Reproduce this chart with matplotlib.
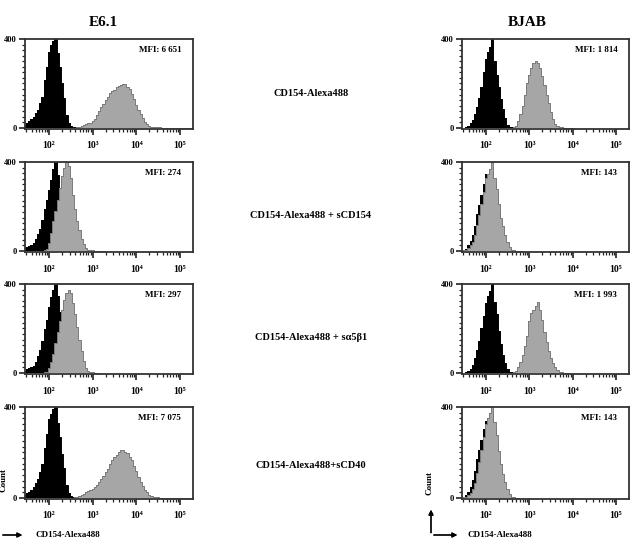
import numpy as np
import matplotlib.pyplot as plt
from matplotlib.ticker import FixedLocator, MultipleLocator, NullFormatter, LogLocator

plt.rcParams['font.family'] = ['Liberation Serif', 'DejaVu Serif']
plt.rcParams['font.weight'] = 'bold'

# histogram bins are 0.05 wide in log10(fluorescence); each series = (first bin centre, counts)
step = 0.05

e61_ctrl_1 = (1.45, [15, 22, 30, 38, 50, 66, 82, 110, 140, 215, 275, 340, 372, 390, 400,
                     335, 272, 200, 135, 60, 22, 8, 3, 2, 2, 3, 2, 3])
e61_stain_1 = (2.65, [3, 5, 8, 12, 16, 20, 24, 30, 42, 58, 75, 92, 108, 125, 140, 155, 165,
                      172, 182, 188, 192, 198, 196, 186, 176, 152, 128, 105, 82, 62, 44, 28,
                      18, 10, 6, 4, 3, 2, 2, 1, 1, 1, 1, 1, 1, 1, 1, 1, 1, 1, 1, 1, 1, 1])
e61_ctrl_2 = (1.45, [12, 18, 22, 28, 34, 52, 75, 98, 140, 190, 230, 275, 320, 370, 398,
                     340, 270, 190, 120, 55, 20, 6])
e61_stain_2 = (1.90, [4, 10, 35, 80, 135, 180, 230, 285, 335, 372, 398, 380, 330, 250, 190,
                      135, 95, 55, 30, 14, 6, 3, 2, 1, 1, 1, 1, 1])
e61_ctrl_3 = (1.45, [10, 16, 22, 28, 32, 50, 78, 105, 145, 196, 240, 298, 340, 372, 400,
                     345, 275, 195, 125, 58, 22, 6])
e61_stain_3 = (1.90, [2, 5, 20, 50, 85, 135, 182, 235, 285, 330, 358, 372, 360, 315, 265,
                      205, 150, 100, 55, 22, 8, 3, 2, 1, 1, 1])
e61_ctrl_4 = (1.45, [14, 20, 28, 36, 48, 64, 85, 112, 150, 220, 280, 345, 370, 392, 400,
                     330, 268, 195, 130, 58, 20, 7, 3, 2, 2, 2])
e61_stain_4 = (2.60, [2, 4, 8, 12, 18, 24, 30, 36, 40, 46, 55, 68, 82, 98, 112, 128, 148,
                      165, 178, 190, 200, 212, 210, 202, 196, 180, 165, 140, 118, 92, 72, 52,
                      36, 24, 14, 7, 4, 2, 2, 1, 1, 1, 1, 1, 1, 1, 1, 1, 1, 1, 1, 1, 1, 1])

bjab_ctrl_1 = (1.55, [3, 8, 20, 36, 62, 95, 135, 185, 250, 310, 340, 365, 400, 300, 240,
                      185, 130, 85, 45, 15, 5, 2])
bjab_stain_1 = (2.65, [3, 10, 30, 62, 100, 150, 200, 240, 270, 290, 300, 290, 270, 235, 192,
                       150, 110, 72, 40, 18, 8, 3, 2, 1, 1, 1, 1, 1])
bjab_ctrl_2 = (1.50, [3, 10, 25, 45, 70, 110, 165, 205, 250, 300, 345, 340, 350, 360, 300,
                      240, 170, 110, 70, 40, 20, 8, 3])
bjab_stain_2 = (1.50, [2, 6, 14, 25, 40, 70, 115, 160, 210, 265, 330, 345, 370, 400, 330,
                       280, 210, 150, 110, 70, 42, 18, 5, 2, 1, 1, 1])
bjab_ctrl_3 = (1.55, [2, 8, 18, 34, 65, 105, 145, 200, 255, 315, 345, 370, 400, 320, 265,
                      190, 130, 80, 45, 18, 5, 2])
bjab_stain_3 = (2.65, [3, 8, 25, 48, 80, 120, 165, 235, 270, 285, 300, 318, 285, 240, 185,
                       140, 100, 68, 45, 25, 14, 6, 2, 1, 1, 1])
bjab_ctrl_4 = (1.50, [3, 12, 28, 50, 78, 118, 170, 210, 255, 305, 340, 335, 352, 362, 305,
                      235, 165, 108, 68, 38, 18, 7, 3])
bjab_stain_4 = (1.50, [2, 5, 12, 22, 38, 66, 110, 158, 212, 268, 325, 350, 372, 400, 335,
                       278, 205, 148, 105, 68, 40, 16, 5, 2, 1, 1])

e61_series = [(e61_ctrl_1, e61_stain_1), (e61_ctrl_2, e61_stain_2),
              (e61_ctrl_3, e61_stain_3), (e61_ctrl_4, e61_stain_4)]
bjab_series = [(bjab_ctrl_1, bjab_stain_1), (bjab_ctrl_2, bjab_stain_2),
               (bjab_ctrl_3, bjab_stain_3), (bjab_ctrl_4, bjab_stain_4)]
e61_mfi = ['MFI: 6 651', 'MFI: 274', 'MFI: 297', 'MFI: 7 075']
bjab_mfi = ['MFI: 1 814', 'MFI: 143', 'MFI: 1 993', 'MFI: 143']
conditions = ['CD154-Alexa488', 'CD154-Alexa488 + sCD154',
              'CD154-Alexa488 + s\u03b15\u03b21', 'CD154-Alexa488+sCD40']
xtick_vals = [1e2, 1e3, 1e4, 1e5]
xtick_labels = ['10\u00b2', '10\u00b3', '10\u2074', '10\u2075']
ytick_vals = [0, 400]

W, H = 636, 549
fig = plt.figure(figsize=(W / 100, H / 100), dpi=100)

row_px = [(39, 129), (162, 252), (284, 374), (407, 499)]
col_px = [(25, 193), (462, 629)]


def draw_hist(ax, series, color, edge, z):
    start, counts = series
    counts = np.array(counts, dtype=float)
    centres = start + step * np.arange(len(counts))
    edges = np.concatenate([centres - step / 2, [centres[-1] + step / 2]])
    xs = np.repeat(10 ** edges, 2)[1:-1]
    ys = np.repeat(counts, 2)
    ax.fill_between(xs, 0, ys, color=color, lw=0, zorder=z)
    ax.plot(xs, ys, color=edge, lw=0.7, zorder=z + 0.5)


def setup(ax, mfi):
    ax.set_xscale('log')
    ax.set_xlim(10 ** 1.45, 10 ** 5.3)
    ax.set_ylim(-5, 400)
    ax.xaxis.set_major_locator(FixedLocator(xtick_vals))
    ax.set_xticklabels(xtick_labels)
    ax.xaxis.set_minor_locator(LogLocator(base=10, subs=np.arange(2, 10), numticks=20))
    ax.xaxis.set_minor_formatter(NullFormatter())
    ax.yaxis.set_major_locator(FixedLocator(ytick_vals))
    ax.yaxis.set_minor_locator(MultipleLocator(25))
    ax.tick_params(which='major', length=4, width=1.2, labelsize=7, pad=5, color='#222222')
    ax.tick_params(which='minor', length=2.5, width=0.9, color='#222222')
    ax.tick_params(axis='y', which='major', labelsize=6, pad=2)
    for s in ax.spines.values():
        s.set_linewidth(1.3)
        s.set_color('#333333')
        s.set_zorder(5)
    ax.text(0.93, 0.88, mfi, transform=ax.transAxes, ha='right', va='center',
            fontsize=6.5, fontweight='bold')


for col, (series_list, mfis) in enumerate([(e61_series, e61_mfi), (bjab_series, bjab_mfi)]):
    x0, x1 = col_px[col]
    for row, (ctrl, stain) in enumerate(series_list):
        y0, y1 = row_px[row]
        ax = fig.add_axes([x0 / W, 1 - y1 / H, (x1 - x0) / W, (y1 - y0) / H])
        draw_hist(ax, ctrl, 'black', 'black', 1)
        draw_hist(ax, stain, '#a6a6a6', '#7a7a7a', 3)
        setup(ax, mfis[row])

fig.text(103 / W, 1 - 23 / H, 'E6.1', ha='center', va='center', fontsize=11, fontweight='bold')
fig.text(527 / W, 1 - 23 / H, 'BJAB', ha='center', va='center', fontsize=11, fontweight='bold')

for label, y in zip(conditions, [93, 216, 338, 465]):
    fig.text(311 / W, 1 - y / H, label, ha='center', va='center', fontsize=7.5, fontweight='bold')

# axis annotations at the bottom
arrow = dict(arrowstyle='-|>', color='black', lw=0.9, mutation_scale=7)
fig.add_artist(plt.annotate('', xy=(25 / W, 1 - 535 / H), xytext=(0, 1 - 535 / H),
                            xycoords='figure fraction', arrowprops=arrow))
fig.text(36 / W, 1 - 535 / H, 'CD154-Alexa488', ha='left', va='center', fontsize=6.5,
         fontweight='bold')
fig.text(4 / W, 1 - 480 / H, 'Count', ha='center', va='center', rotation=90, fontsize=6.5,
         fontweight='bold')

fig.add_artist(plt.annotate('', xy=(460 / W, 1 - 535 / H), xytext=(431 / W, 1 - 535 / H),
                            xycoords='figure fraction', arrowprops=arrow))
fig.add_artist(plt.annotate('', xy=(431 / W, 1 - 507 / H), xytext=(431 / W, 1 - 535.5 / H),
                            xycoords='figure fraction', arrowprops=arrow))
fig.text(467 / W, 1 - 535 / H, 'CD154-Alexa488', ha='left', va='center', fontsize=6.5,
         fontweight='bold')
fig.text(430 / W, 1 - 483 / H, 'Count', ha='center', va='center', rotation=90, fontsize=6.5,
         fontweight='bold')

fig.savefig('out.png', dpi=100)
